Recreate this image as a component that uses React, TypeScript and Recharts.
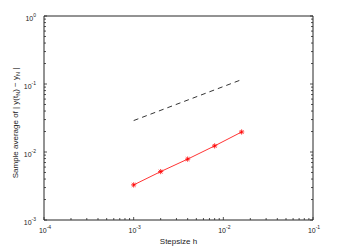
import React from "react";
import { ComposedChart, Line, XAxis, YAxis, Label } from "recharts";

// axis decades (major ticks) and in-between minor multipliers
const hMajorTicks = [1e-4, 1e-3, 1e-2, 1e-1];
const errMajorTicks = [1e-3, 1e-2, 1e-1, 1];
const minorMultipliers = [2, 3, 4, 5, 6, 7, 8, 9];

// measured error curve
const stepSizes = [0.001, 0.002, 0.004, 0.008, 0.016];
const sampleErrors = [0.00328, 0.00515, 0.00786, 0.0123, 0.0197];

// reference slope (dashed)
const refSteps = [0.001, 0.016];
const refValues = [0.029, 0.116];

const FONT = "'Liberation Sans', Arial, Helvetica, sans-serif";
const AXIS = "#262626";

const withMinor = (majors: number[]) => {
  const out: number[] = [];
  majors.forEach((m, i) => {
    out.push(m);
    if (i < majors.length - 1) minorMultipliers.forEach((k) => out.push(k * m));
  });
  return out;
};

const hTicks = withMinor(hMajorTicks);
const errTicks = withMinor(errMajorTicks);

const errData = stepSizes.map((h, i) => ({ h, v: sampleErrors[i] }));
const refData = refSteps.map((h, i) => ({ h, v: refValues[i] }));

const decade = (v: number) => Math.round(Math.log10(v));
const isMajor = (v: number) => Math.abs(Math.log10(v) - decade(v)) < 1e-6;
const tickLen = (v: number) => (isMajor(v) ? 3 : 2);

function Pow10({ x, y, v, anchor }: { x: number; y: number; v: number; anchor: "middle" | "end" }) {
  return (
    <text x={x} y={y} textAnchor={anchor} fontSize={7} fill="#222" fontFamily={FONT}>
      10
      <tspan dy={-3.5} fontSize={5}>
        {decade(v)}
      </tspan>
    </text>
  );
}

function BottomTick(props: any) {
  const { x, y, payload } = props;
  const v = payload.value;
  return (
    <g>
      <line x1={x} x2={x} y1={y} y2={y - tickLen(v)} stroke={AXIS} strokeWidth={0.8} />
      {isMajor(v) && <Pow10 x={x + 1} y={y + 12.5} v={v} anchor="middle" />}
    </g>
  );
}

function TopTick(props: any) {
  const { x, y, payload } = props;
  return <line x1={x} x2={x} y1={y} y2={y + tickLen(payload.value)} stroke={AXIS} strokeWidth={0.8} />;
}

function LeftTick(props: any) {
  const { x, y, payload } = props;
  const v = payload.value;
  return (
    <g>
      <line x1={x} x2={x + tickLen(v)} y1={y} y2={y} stroke={AXIS} strokeWidth={0.8} />
      {isMajor(v) && <Pow10 x={x - 8} y={y + 4.5} v={v} anchor="end" />}
    </g>
  );
}

function RightTick(props: any) {
  const { x, y, payload } = props;
  return <line x1={x} x2={x - tickLen(payload.value)} y1={y} y2={y} stroke={AXIS} strokeWidth={0.8} />;
}

function Asterisk(props: any) {
  const { cx, cy, index } = props;
  const r = 2.6;
  const d = r * 0.72;
  return (
    <g key={`ast-${index}`} stroke="#ff0000" strokeWidth={0.8}>
      <line x1={cx - r} x2={cx + r} y1={cy} y2={cy} />
      <line x1={cx} x2={cx} y1={cy - r} y2={cy + r} />
      <line x1={cx - d} x2={cx + d} y1={cy - d} y2={cy + d} />
      <line x1={cx - d} x2={cx + d} y1={cy + d} y2={cy - d} />
    </g>
  );
}

function XTitle(props: any) {
  const vb = props.viewBox || {};
  return (
    <text x={vb.x + vb.width / 2} y={vb.y + 23.5} textAnchor="middle" fontSize={8} fill="#222" fontFamily={FONT}>
      Stepsize h
    </text>
  );
}

function YTitle(props: any) {
  const vb = props.viewBox || {};
  const cx = vb.x + vb.width - 26;
  const cy = vb.y + vb.height / 2 + 5;
  return (
    <text
      x={cx}
      y={cy}
      transform={`rotate(-90, ${cx}, ${cy})`}
      textAnchor="middle"
      fontSize={8}
      fill="#222"
      fontFamily={FONT}
    >
      Sample average of | y(t
      <tspan dy={2} fontSize={5.5}>N</tspan>
      <tspan dy={-2}>) − y</tspan>
      <tspan dy={2} fontSize={5.5}>N</tspan>
      <tspan dy={-2}> |</tspan>
    </text>
  );
}

const axisLine = { stroke: AXIS, strokeWidth: 1 };

export default function App() {
  return (
    <div style={{ position: "absolute", left: 0, top: 0, width: 346, height: 249, background: "#fff" }}>
      <ComposedChart width={346} height={249} margin={{ top: 15, right: 32, bottom: 28, left: 43 }}>
        <XAxis
          type="number"
          dataKey="h"
          scale="log"
          domain={[1e-4, 1e-1]}
          allowDataOverflow
          ticks={hTicks}
          interval={0}
          height={1}
          tickSize={0}
          tickMargin={0}
          tickLine={false}
          tick={<BottomTick />}
          axisLine={axisLine}
        >
          <Label content={<XTitle />} />
        </XAxis>
        <XAxis
          xAxisId="top"
          orientation="top"
          type="number"
          scale="log"
          domain={[1e-4, 1e-1]}
          allowDataOverflow
          ticks={hTicks}
          interval={0}
          height={1}
          tickSize={0}
          tickMargin={0}
          tickLine={false}
          tick={<TopTick />}
          axisLine={axisLine}
        />
        <YAxis
          type="number"
          scale="log"
          domain={[1e-3, 1]}
          allowDataOverflow
          ticks={errTicks}
          interval={0}
          width={1}
          tickSize={0}
          tickMargin={0}
          tickLine={false}
          tick={<LeftTick />}
          axisLine={axisLine}
        >
          <Label content={<YTitle />} />
        </YAxis>
        <YAxis
          yAxisId="right"
          orientation="right"
          type="number"
          scale="log"
          domain={[1e-3, 1]}
          allowDataOverflow
          ticks={errTicks}
          interval={0}
          width={1}
          tickSize={0}
          tickMargin={0}
          tickLine={false}
          tick={<RightTick />}
          axisLine={axisLine}
        />
        <Line
          data={refData}
          dataKey="v"
          stroke="#000"
          strokeWidth={0.8}
          strokeDasharray="5 4"
          dot={false}
          isAnimationActive={false}
        />
        <Line
          data={errData}
          dataKey="v"
          stroke="#ff0000"
          strokeWidth={0.8}
          dot={<Asterisk />}
          isAnimationActive={false}
        />
      </ComposedChart>
    </div>
  );
}
